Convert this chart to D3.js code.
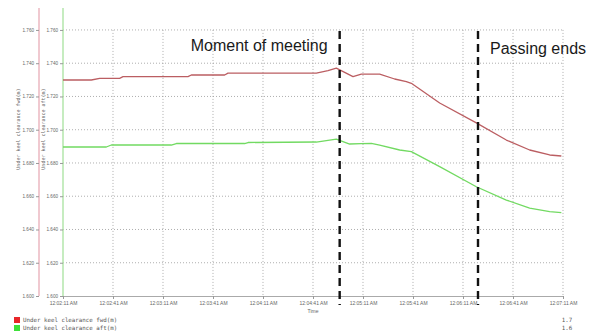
<!DOCTYPE html>
<html>
<head>
<meta charset="utf-8">
<script src="https://cdn.jsdelivr.net/npm/d3@7"></script>
<style>
  html, body { margin: 0; padding: 0; background: #fff; }
  svg { display: block; }
</style>
</head>
<body>
<svg id="chart" width="594" height="336"></svg>
<script>
// Under keel clearance records (time of day, metres)
const fwdTimes = ["00:02:11","00:02:28","00:02:33","00:02:45","00:02:47","00:03:26","00:03:28","00:03:48","00:03:50","00:04:43","00:04:50","00:04:55","00:05:00","00:05:05","00:05:10","00:05:21","00:05:30","00:05:37","00:05:40","00:05:57","00:06:19","00:06:37","00:06:51","00:07:03","00:07:10"];
const fwdValues = [1.7299,1.7299,1.7309,1.7309,1.7319,1.7319,1.7329,1.7329,1.7340,1.7340,1.7355,1.7370,1.7345,1.7319,1.7334,1.7334,1.7305,1.7289,1.7279,1.7161,1.7041,1.6938,1.6878,1.6848,1.6842];

const aftTimes = ["00:02:11","00:02:37","00:02:40","00:03:16","00:03:19","00:04:00","00:04:02","00:04:43","00:04:55","00:05:03","00:05:10","00:05:16","00:05:21","00:05:33","00:05:40","00:05:57","00:06:19","00:06:37","00:06:51","00:07:03","00:07:10"];
const aftValues = [1.6896,1.6896,1.6908,1.6908,1.6917,1.6917,1.6923,1.6926,1.6944,1.6914,1.6916,1.6918,1.6908,1.6878,1.6868,1.6778,1.6657,1.6577,1.6529,1.6507,1.6501];

const timeTicks = ["00:02:11","00:02:41","00:03:11","00:03:41","00:04:11","00:04:41","00:05:11","00:05:41","00:06:11","00:06:41","00:07:11"];
const valueTicks = [1.600,1.620,1.640,1.660,1.680,1.700,1.720,1.740,1.760];
const timeDomain = ["00:02:11","00:07:11"];
const valueDomain = [1.600, 1.7732];

const seriesNames = ["Under keel clearance fwd(m)", "Under keel clearance aft(m)"];
const legendValues = ["1.7", "1.6"];
const events = [
  { time: "00:04:57", label: "Moment of meeting", side: "left", baseline: 51 },
  { time: "00:06:20", label: "Passing ends", side: "right", baseline: 54 }
];

const parseTime = d3.timeParse("%H:%M:%S");
const fmtTime = d3.timeFormat("%-I:%M:%S %p");

const svg = d3.select("#chart");
const x = d3.scaleTime().domain(timeDomain.map(parseTime)).range([63, 563]);
const y = d3.scaleLinear().domain(valueDomain).range([296, 8]);

const fwd = fwdTimes.map((t, i) => ({ t: parseTime(t), v: fwdValues[i] }));
const aft = aftTimes.map((t, i) => ({ t: parseTime(t), v: aftValues[i] }));

// horizontal grid
svg.append("g")
  .selectAll("line").data(valueTicks.slice(1)).join("line")
  .attr("x1", x.range()[0]).attr("x2", x.range()[1])
  .attr("y1", d => y(d)).attr("y2", d => y(d))
  .attr("stroke", "#9a9a9a").attr("stroke-width", 0.8)
  .attr("stroke-dasharray", "1,2");

// vertical grid
svg.append("g")
  .selectAll("line").data(timeTicks.slice(1).map(parseTime)).join("line")
  .attr("x1", d => x(d)).attr("x2", d => x(d))
  .attr("y1", y(valueTicks[valueTicks.length - 1])).attr("y2", y.range()[0])
  .attr("stroke", "#9a9a9a").attr("stroke-width", 0.8)
  .attr("stroke-dasharray", "1,2");

// x axis
const xAxis = d3.axisBottom(x)
  .tickValues(timeTicks.map(parseTime))
  .tickFormat(fmtTime)
  .tickSize(3).tickPadding(2);
const gx = svg.append("g").attr("transform", `translate(0,${y.range()[0]})`).call(xAxis);
gx.select(".domain").attr("stroke", "#aaa");
gx.selectAll(".tick line").attr("stroke", "#999");
gx.selectAll("text").attr("font-family", "Liberation Sans, Arial, sans-serif")
  .attr("font-size", 5).attr("fill", "#666");

svg.append("text")
  .attr("x", (x.range()[0] + x.range()[1]) / 2).attr("y", 313)
  .attr("text-anchor", "middle")
  .attr("font-family", "Liberation Sans, Arial, sans-serif")
  .attr("font-size", 5).attr("fill", "#666")
  .text("Time");

// two y axes, fwd (outer) and aft (inner)
function yAxisAt(xPos, color, title, titleX) {
  const ax = d3.axisLeft(y).tickValues(valueTicks).tickFormat(d3.format(".3f"))
    .tickSize(3).tickPadding(2);
  const g = svg.append("g").attr("transform", `translate(${xPos},0)`).call(ax);
  g.select(".domain").attr("stroke", color).attr("stroke-width", 1.5)
    .attr("d", `M0,${y.range()[1]}V${y.range()[0]}`);
  g.selectAll(".tick line").attr("stroke", "#999");
  g.selectAll("text").attr("font-family", "Liberation Sans, Arial, sans-serif")
    .attr("font-size", 4.6).attr("fill", "#666");
  svg.append("text")
    .attr("transform", `translate(${titleX},129) rotate(-90)`)
    .attr("text-anchor", "middle")
    .attr("font-family", "DejaVu Sans Mono, monospace")
    .attr("font-size", 5).attr("fill", "#666")
    .text(title);
}
yAxisAt(39, "#ebb7c0", seriesNames[0], 20);
yAxisAt(63, "#b3e6ab", seriesNames[1], 45);

// series lines
const line = d3.line().x(d => x(d.t)).y(d => y(d.v));
svg.append("path").datum(aft)
  .attr("fill", "none").attr("stroke", "#72da62").attr("stroke-width", 1.3)
  .attr("stroke-linejoin", "round").attr("d", line);
svg.append("path").datum(fwd)
  .attr("fill", "none").attr("stroke", "#bb5e62").attr("stroke-width", 1.3)
  .attr("stroke-linejoin", "round").attr("d", line);

// event markers
events.forEach(ev => {
  const ex = x(parseTime(ev.time));
  svg.append("line")
    .attr("x1", ex).attr("x2", ex).attr("y1", 31).attr("y2", 305)
    .attr("stroke", "#111").attr("stroke-width", 2.4)
    .attr("stroke-dasharray", "8,5");
  svg.append("text")
    .attr("x", ev.side === "left" ? ex - 12 : ex + 12).attr("y", ev.baseline)
    .attr("text-anchor", ev.side === "left" ? "end" : "start")
    .attr("font-family", "Liberation Sans, Arial, sans-serif")
    .attr("font-size", 16).attr("fill", "#1a1a1a")
    .text(ev.label);
});

// legend
const legendColors = ["#e8262a", "#3ee03a"];
const lg = svg.append("g");
seriesNames.forEach((name, i) => {
  const ly = 317 + i * 8;
  lg.append("rect").attr("x", 14).attr("y", ly).attr("width", 6).attr("height", 6)
    .attr("fill", legendColors[i]);
  lg.append("text").attr("x", 23).attr("y", ly + 5)
    .attr("font-family", "DejaVu Sans Mono, monospace")
    .attr("font-size", 5.8).attr("fill", "#555")
    .text(name);
  lg.append("text").attr("x", 567).attr("y", ly + 5)
    .attr("text-anchor", "middle")
    .attr("font-family", "DejaVu Sans Mono, monospace")
    .attr("font-size", 5.8).attr("fill", "#555")
    .text(legendValues[i]);
});
</script>
</body>
</html>
